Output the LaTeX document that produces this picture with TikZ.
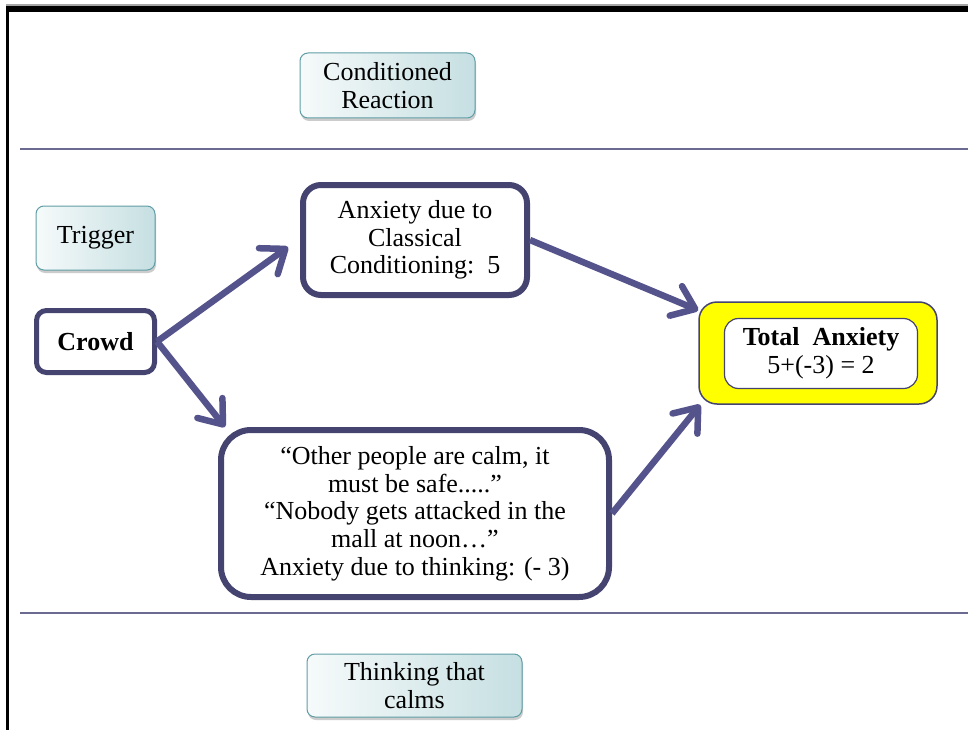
\documentclass[tikz,border=0pt]{standalone}
\usepackage{fontspec}
\setmainfont{Liberation Serif}
\usetikzlibrary{arrows.meta,shadows,calc}

\definecolor{frameblue}{HTML}{45436F}
\definecolor{arrowblue}{HTML}{55538C}
\definecolor{ruleblue}{HTML}{6B6A90}
\definecolor{tealedge}{HTML}{5F9EA5}
\definecolor{tealfill}{HTML}{C6DFE2}
\definecolor{palefill}{HTML}{F6FAFA}
\definecolor{boxyellow}{HTML}{FFFF00}

\tikzset{
  txt/.style={font=\fontsize{26}{27.7}\selectfont, align=center, inner sep=0pt},
  labelbox/.style={txt, draw=tealedge, line width=1pt, rounded corners=8pt,
    left color=palefill, right color=tealfill,
    drop shadow={shadow xshift=1pt, shadow yshift=-3pt, opacity=0.4}},
  thickbox/.style={txt, draw=frameblue, fill=white, line width=6pt},
  arr/.style={draw=arrowblue, line width=6.5pt,
    -{Straight Barb[length=21pt, width=32pt, line cap=round, line join=round]}},
  sepline/.style={draw=ruleblue, line width=1.3pt}
}

\begin{document}
\begin{tikzpicture}[x=1pt, y=-1pt]
  \useasboundingbox (0,0) rectangle (968,730);
  \fill[white] (0,0) rectangle (968,730);

  % page frame: heavy top bar and thin left edge
  \fill[black!35] (6,4) rectangle (968,6);
  \fill[black] (6,6) rectangle (968,12);
  \fill[black] (6,6) rectangle (8.5,730);

  % band separators
  \draw[sepline] (20,149) -- (968,149);
  \draw[sepline] (20,613) -- (968,613);

  % column labels
  \node[labelbox, minimum width=175pt, minimum height=65pt] (cond) at (387.5,85.5)
    {Conditioned\\Reaction};
  \node[labelbox, minimum width=119pt, minimum height=64pt] (trig) at (95.5,238)
    {Trigger};
  \node[labelbox, minimum width=215pt, minimum height=63pt] (calm) at (414.5,685.5)
    {Thinking that\\calms};

  % diagram boxes
  \node[thickbox, line width=5pt, rounded corners=10pt,
        minimum width=118pt, minimum height=62pt] (crowd) at (95.5,341.5)
    {\textbf{Crowd}};
  \node[thickbox, rounded corners=18pt,
        minimum width=224pt, minimum height=110pt] (classical) at (415,240)
    {Anxiety due to\\Classical\\Conditioning:\ \ 5};
  \node[thickbox, rounded corners=30pt,
        minimum width=388pt, minimum height=167pt] (thinking) at (415,513.5)
    {“Other people are calm, it\\must be safe.....”\\“Nobody gets attacked in the\\mall at noon…”\\Anxiety due to thinking: (- 3)};

  \node[draw=frameblue, line width=1.5pt, fill=boxyellow, rounded corners=18pt,
        minimum width=238pt, minimum height=102pt] (total) at (818,353) {};
  \node[txt, draw=frameblue, line width=1.2pt, fill=white, rounded corners=14pt,
        minimum width=193pt, minimum height=70pt] (sum) at (821,353.5)
    {\textbf{Total\ \ Anxiety}\\5+(-3) = 2};

  % connectors
  \draw[arr] (crowd.east) -- ($(classical.west)+(-12,7)$);
  \draw[arr] (crowd.east) -- ($(thinking.north west)+(7,0)$);
  \draw[arr] (classical.east) -- ($(total.north west)+(0,9)$);
  \draw[arr] (thinking.east) -- ($(total.south west)+(2,0)$);
\end{tikzpicture}
\end{document}
